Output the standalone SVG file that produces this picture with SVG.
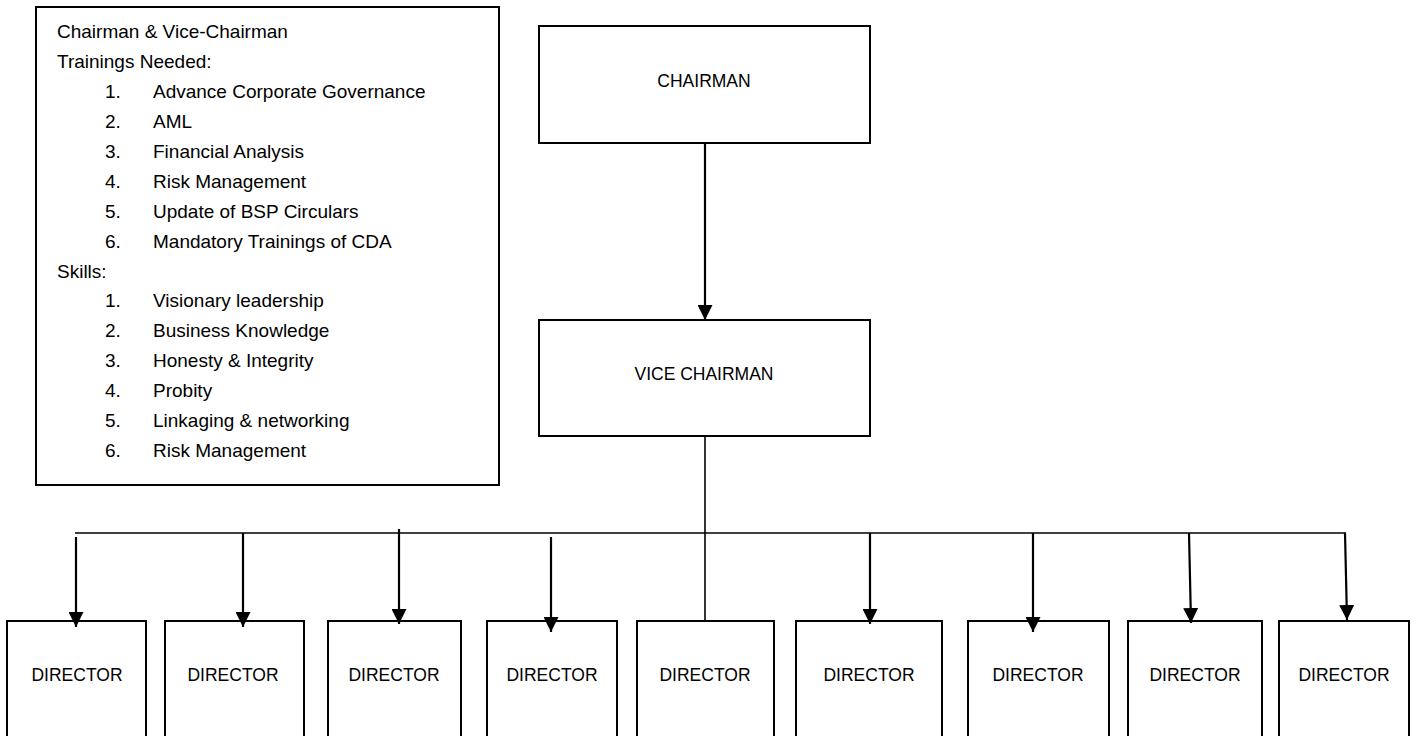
<svg xmlns="http://www.w3.org/2000/svg" width="1416" height="736" viewBox="0 0 1416 736">
<style>
.box{fill:#fff;stroke:#000;stroke-width:2}
.t{font-family:"Liberation Sans",Arial,sans-serif;font-size:19px;fill:#000}
.n{font-family:"Liberation Sans",Arial,sans-serif;font-size:17.5px;fill:#000;text-anchor:middle}
.c{stroke:#000;stroke-width:2.2;fill:none}
.h{stroke:#000;stroke-width:1.6;fill:none}
</style>
<defs>
<marker id="ah" viewBox="0 0 10 10" refX="10" refY="5" markerWidth="15" markerHeight="15" markerUnits="userSpaceOnUse" orient="auto">
<path d="M0,0 L10,5 L0,10 z" fill="#000"/>
</marker>
</defs>
<rect width="1416" height="736" fill="#fff"/>
<g id="notes">
<rect class="box" x="36" y="7" width="463" height="478"/>
<text class="t" x="57" y="38">Chairman &amp; Vice-Chairman</text>
<text class="t" x="57" y="68">Trainings Needed:</text>
<text class="t" x="105" y="98">1.</text><text class="t" x="153" y="98">Advance Corporate Governance</text>
<text class="t" x="105" y="128">2.</text><text class="t" x="153" y="128">AML</text>
<text class="t" x="105" y="158">3.</text><text class="t" x="153" y="158">Financial Analysis</text>
<text class="t" x="105" y="188">4.</text><text class="t" x="153" y="188">Risk Management</text>
<text class="t" x="105" y="218">5.</text><text class="t" x="153" y="218">Update of BSP Circulars</text>
<text class="t" x="105" y="248">6.</text><text class="t" x="153" y="248">Mandatory Trainings of CDA</text>
<text class="t" x="57" y="278">Skills:</text>
<text class="t" x="105" y="307">1.</text><text class="t" x="153" y="307">Visionary leadership</text>
<text class="t" x="105" y="337">2.</text><text class="t" x="153" y="337">Business Knowledge</text>
<text class="t" x="105" y="367">3.</text><text class="t" x="153" y="367">Honesty &amp; Integrity</text>
<text class="t" x="105" y="397">4.</text><text class="t" x="153" y="397">Probity</text>
<text class="t" x="105" y="427">5.</text><text class="t" x="153" y="427">Linkaging &amp; networking</text>
<text class="t" x="105" y="457">6.</text><text class="t" x="153" y="457">Risk Management</text>
</g>
<g id="chairman">
<rect class="box" x="539" y="26" width="331" height="117"/>
<text class="n" x="704" y="87">CHAIRMAN</text>
</g>
<g id="vice-chairman">
<rect class="box" x="539" y="320" width="331" height="116"/>
<text class="n" x="704" y="380">VICE CHAIRMAN</text>
</g>
<g id="director1"><rect class="box" x="7" y="621" width="139" height="130"/><text class="n" x="77" y="681">DIRECTOR</text></g>
<g id="director2"><rect class="box" x="165" y="621" width="139" height="130"/><text class="n" x="233" y="681">DIRECTOR</text></g>
<g id="director3"><rect class="box" x="328" y="621" width="133" height="130"/><text class="n" x="394" y="681">DIRECTOR</text></g>
<g id="director4"><rect class="box" x="487" y="621" width="130" height="130"/><text class="n" x="552" y="681">DIRECTOR</text></g>
<g id="director5"><rect class="box" x="637" y="621" width="137" height="130"/><text class="n" x="705" y="681">DIRECTOR</text></g>
<g id="director6"><rect class="box" x="796" y="621" width="146" height="130"/><text class="n" x="869" y="681">DIRECTOR</text></g>
<g id="director7"><rect class="box" x="968" y="621" width="141" height="130"/><text class="n" x="1038" y="681">DIRECTOR</text></g>
<g id="director8"><rect class="box" x="1128" y="621" width="134" height="130"/><text class="n" x="1195" y="681">DIRECTOR</text></g>
<g id="director9"><rect class="box" x="1279" y="621" width="130" height="130"/><text class="n" x="1344" y="681">DIRECTOR</text></g>
<g id="connectors">
<line class="c" x1="705" y1="143" x2="705" y2="320" marker-end="url(#ah)"/>
<line class="h" x1="705" y1="436" x2="705" y2="621"/>
<line class="h" x1="75" y1="533" x2="1346" y2="533"/>
<line class="c" x1="76" y1="537" x2="76" y2="627" marker-end="url(#ah)"/>
<line class="c" x1="243" y1="533" x2="243" y2="627" marker-end="url(#ah)"/>
<line class="c" x1="399" y1="529" x2="399" y2="624" marker-end="url(#ah)"/>
<line class="c" x1="551" y1="537" x2="551" y2="632" marker-end="url(#ah)"/>
<line class="c" x1="870" y1="533" x2="870" y2="624" marker-end="url(#ah)"/>
<line class="c" x1="1033" y1="533" x2="1033" y2="632" marker-end="url(#ah)"/>
<line class="c" x1="1189" y1="533" x2="1191" y2="623" marker-end="url(#ah)"/>
<line class="c" x1="1345" y1="533" x2="1347" y2="620" marker-end="url(#ah)"/>
</g>
</svg>
